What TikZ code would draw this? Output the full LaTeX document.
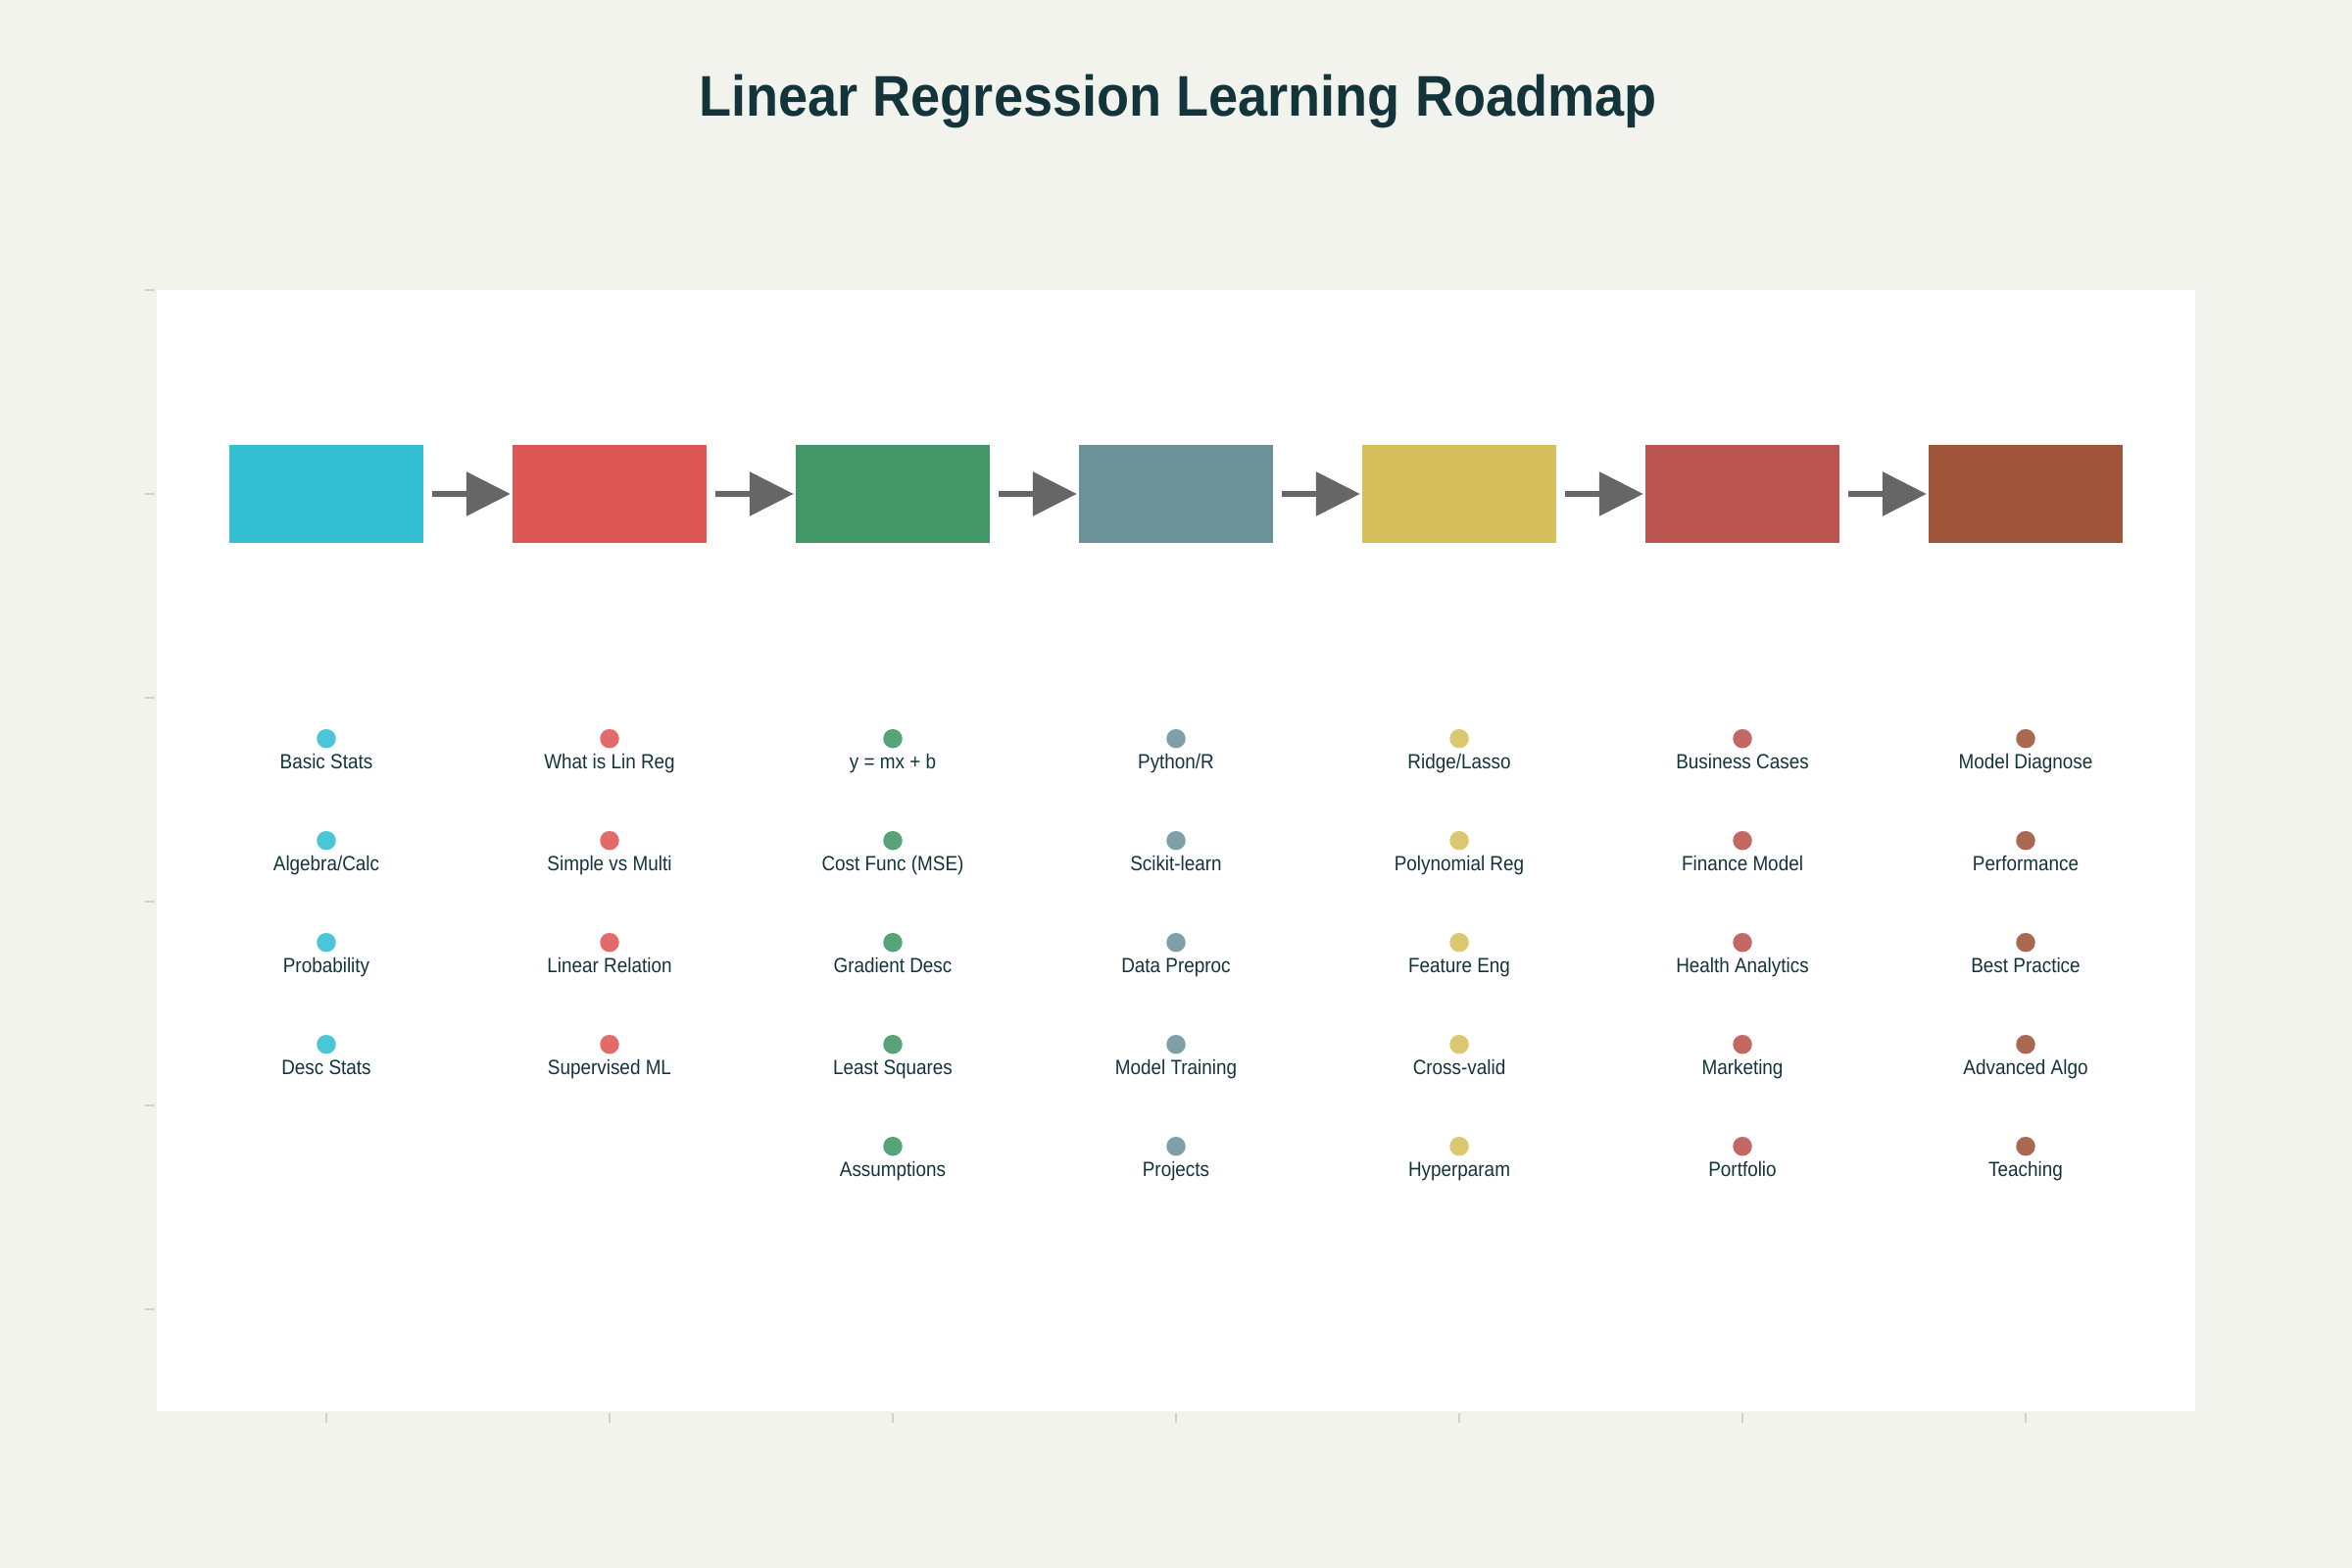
\documentclass[tikz,border=0pt]{standalone}
\usepackage{fontspec}
\usepackage{graphicx}
\setmainfont{Liberation Sans}
\usetikzlibrary{arrows.meta}
\definecolor{bgc}{HTML}{F3F3EE}
\definecolor{ink}{HTML}{13343B}
\definecolor{tickc}{HTML}{D2D2CC}
\definecolor{arrc}{HTML}{666666}
\definecolor{cA}{HTML}{1FB8CD}
\definecolor{cB}{HTML}{DB4545}
\definecolor{cC}{HTML}{2E8B57}
\definecolor{cD}{HTML}{5D878F}
\definecolor{cE}{HTML}{D2BA4C}
\definecolor{cF}{HTML}{B4413C}
\definecolor{cG}{HTML}{964325}
\tikzset{
  stagebox/.style={rectangle, draw=none, fill opacity=0.9, minimum width=198pt, minimum height=100pt, inner sep=0pt},
  flowarrow/.style={draw=arrc, line width=6pt, shorten <=9pt, shorten >=2pt, -{Triangle[length=45pt,width=44pt]}},
  dotnode/.style={circle, draw=none, fill opacity=0.8, minimum size=19.5pt, inner sep=0pt},
  labnode/.style={anchor=base, inner sep=0pt, text=ink, font=\fontsize{21}{25}\selectfont},
  tickline/.style={draw=tickc, line width=2pt},
}
\newcommand\mycolumn[3]{%
  \foreach \t [count=\j] in {#3} {
    \node[dotnode, fill=#2] (d#1-\j) at ({333+289*(#1-1)}, {753.7+104*(\j-1)}) {};
    \node[labnode] (l#1-\j) at ({333+289*(#1-1)}, {784.7+104*(\j-1)}) {\scalebox{0.9}[1]{\t}};
  }%
}
\begin{document}
\begin{tikzpicture}[x=1pt,y=-1pt]
\fill[bgc] (0,0) rectangle (2400,1600);
\useasboundingbox (0,0) rectangle (2400,1600);
\fill[white] (160,296) rectangle (2240,1440);
% axis ticks
\foreach \yy in {296,504,712,920,1128,1336} \draw[tickline] (148,\yy) -- (158,\yy);
\foreach \i in {0,...,6} \draw[tickline] ({333+289*\i},1442) -- ({333+289*\i},1452);
% title
\node[anchor=base, inner sep=0pt, text=ink, font=\fontsize{58.5}{70}\selectfont\bfseries] (title) at (1202,119) {\scalebox{0.925}[1]{Linear Regression Learning Roadmap}};
% stage boxes
\node[stagebox, fill=cA] (b1) at (333,504) {};
\node[stagebox, fill=cB] (b2) at (622,504) {};
\node[stagebox, fill=cC] (b3) at (911,504) {};
\node[stagebox, fill=cD] (b4) at (1200,504) {};
\node[stagebox, fill=cE] (b5) at (1489,504) {};
\node[stagebox, fill=cF] (b6) at (1778,504) {};
\node[stagebox, fill=cG] (b7) at (2067,504) {};
\draw[flowarrow] (b1) -- (b2);
\draw[flowarrow] (b2) -- (b3);
\draw[flowarrow] (b3) -- (b4);
\draw[flowarrow] (b4) -- (b5);
\draw[flowarrow] (b5) -- (b6);
\draw[flowarrow] (b6) -- (b7);
% topic dots and labels
\mycolumn{1}{cA}{Basic Stats,Algebra/Calc,Probability,Desc Stats}
\mycolumn{2}{cB}{What is Lin Reg,Simple vs Multi,Linear Relation,Supervised ML}
\mycolumn{3}{cC}{y = mx + b,Cost Func (MSE),Gradient Desc,Least Squares,Assumptions}
\mycolumn{4}{cD}{Python/R,Scikit-learn,Data Preproc,Model Training,Projects}
\mycolumn{5}{cE}{Ridge/Lasso,Polynomial Reg,Feature Eng,Cross-valid,Hyperparam}
\mycolumn{6}{cF}{Business Cases,Finance Model,Health Analytics,Marketing,Portfolio}
\mycolumn{7}{cG}{Model Diagnose,Performance,Best Practice,Advanced Algo,Teaching}
\end{tikzpicture}
\end{document}
